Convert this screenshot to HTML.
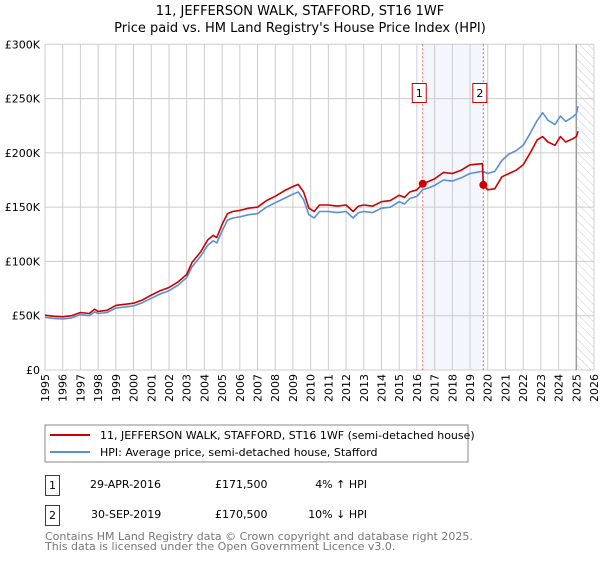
<!DOCTYPE html>
<html><head><meta charset="utf-8"><style>
body{margin:0;background:#fff;font-family:"Liberation Sans","DejaVu Sans",sans-serif;}
svg text{font-family:"DejaVu Sans","Liberation Sans",sans-serif;}
</style></head><body>
<svg id="c" width="600" height="560" xmlns="http://www.w3.org/2000/svg">
<defs><pattern id="hatch" width="6" height="6" patternUnits="userSpaceOnUse" patternTransform="rotate(-45)"><line x1="0" y1="0" x2="0" y2="6" stroke="#ccc" stroke-width="1"/></pattern></defs>
<text x="300" y="15" text-anchor="middle" font-size="13">11, JEFFERSON WALK, STAFFORD, ST16 1WF</text>
<text x="300" y="32" text-anchor="middle" font-size="13">Price paid vs. HM Land Registry's House Price Index (HPI)</text>
<g id="plot"></g>
<rect x="45" y="425" width="423" height="37" fill="#fff" stroke="#888"/>
<line x1="50" y1="435" x2="90" y2="435" stroke="#cc0000" stroke-width="2"/>
<text x="100" y="439" font-size="11">11, JEFFERSON WALK, STAFFORD, ST16 1WF (semi-detached house)</text>
<line x1="50" y1="452" x2="90" y2="452" stroke="#5b8fd4" stroke-width="2"/>
<text x="100" y="456" font-size="11">HPI: Average price, semi-detached house, Stafford</text>
<g>
<rect x="45.5" y="475.5" width="14" height="20" fill="#fff" stroke="#cc0000"/>
<text x="52.5" y="489" text-anchor="middle" font-size="11">1</text>
<text x="90" y="488" font-size="11">29-APR-2016</text>
<text x="215" y="488" font-size="11">£171,500</text>
<text x="367" y="488" text-anchor="end" font-size="11">4% ↑ HPI</text>
</g>
<g>
<rect x="45.5" y="505.5" width="14" height="20" fill="#fff" stroke="#cc0000"/>
<text x="52.5" y="519" text-anchor="middle" font-size="11">2</text>
<text x="91" y="518" font-size="11">30-SEP-2019</text>
<text x="215" y="518" font-size="11">£170,500</text>
<text x="367" y="518" text-anchor="end" font-size="11">10% ↓ HPI</text>
</g>
<text x="45" y="540" font-size="11" fill="#777">Contains HM Land Registry data © Crown copyright and database right 2025.</text>
<text x="45" y="550" font-size="11" fill="#777">This data is licensed under the Open Government Licence v3.0.</text>
</svg>
<script>
const yTicks=[0,50,100,150,200,250,300];
const yTickLabels=["£0","£50K","£100K","£150K","£200K","£250K","£300K"];
const xTicks=[1995,1996,1997,1998,1999,2000,2001,2002,2003,2004,2005,2006,2007,2008,2009,2010,2011,2012,2013,2014,2015,2016,2017,2018,2019,2020,2021,2022,2023,2024,2025,2026];
const hpiYears=[1995,1995.5,1996,1996.5,1997,1997.5,1997.8,1998,1998.5,1999,1999.5,2000,2000.5,2001,2001.5,2002,2002.5,2003,2003.3,2003.8,2004.2,2004.5,2004.7,2005,2005.3,2005.6,2006,2006.5,2007,2007.5,2008,2008.5,2009,2009.3,2009.6,2009.9,2010.2,2010.5,2011,2011.5,2012,2012.4,2012.7,2013,2013.5,2014,2014.5,2015,2015.3,2015.6,2016,2016.33,2016.7,2017,2017.5,2018,2018.5,2019,2019.7,2020,2020.4,2020.8,2021.2,2021.6,2022,2022.4,2022.8,2023.1,2023.4,2023.8,2024.1,2024.4,2024.8,2025,2025.1];
const hpiValues=[48.5,47.5,47,48,51,50,53.5,52,53,57,58,59,62,66,70,73,78,85,95,105,115,119,117,128,138,140,141,143,144,150,154,158,162,164,157,143,140,146,146,145,146,140,145,146,145,149,150,155,153,158,160,166,168,170,175,174,177,181,183,181,183,193,199,202,207,218,230,237,230,226,234,229,233,236,243];
const propYears=[1995,1995.5,1996,1996.5,1997,1997.5,1997.8,1998,1998.5,1999,1999.5,2000,2000.5,2001,2001.5,2002,2002.5,2003,2003.3,2003.8,2004.2,2004.5,2004.7,2005,2005.3,2005.6,2006,2006.5,2007,2007.5,2008,2008.5,2009,2009.3,2009.6,2009.9,2010.2,2010.5,2011,2011.5,2012,2012.4,2012.7,2013,2013.5,2014,2014.5,2015,2015.3,2015.6,2016,2016.33,2016.7,2017,2017.5,2018,2018.5,2019,2019.7,2019.75,2020,2020.4,2020.8,2021.2,2021.6,2022,2022.4,2022.8,2023.1,2023.4,2023.8,2024.1,2024.4,2024.8,2025,2025.1];
const propValues=[50.5,49.5,49,50,53,52,56,54,55,59.5,60.5,61.5,64.5,69,73,76,81,88,99,109,120,124,122,134,144,146,147,149,150,156,160,165,169,171,164,149,146,152,152,151,152,146,151,152,151,155,156,161,159,164,166,171.5,174,176,182,181,184,189,190,170.5,166,167,178,181,184,189,200,212,215,210,207,215,210,213,215,220];
const sales=[{year:2016.33,value:171.5,label:"1"},{year:2019.75,value:170.5,label:"2"}];
const X0=45,X1=594,Y0=370,Y1=44.3,xMin=1995,xMax=2026,yMax=300;
const xs=v=>X0+(v-xMin)/(xMax-xMin)*(X1-X0);
const ys=v=>Y0-v/yMax*(Y0-Y1);
const NS="http://www.w3.org/2000/svg",g=document.getElementById('plot');
function mk(t,a,p){const e=document.createElementNS(NS,t);for(const k in a)e.setAttribute(k,a[k]);(p||g).appendChild(e);return e;}
let e=mk('rect',{x:xs(2016.33),y:Y1,width:xs(2019.75)-xs(2016.33),height:Y0-Y1,fill:'#eef3fc',opacity:0.7});


e=mk('rect',{x:xs(2025.0),y:Y1,width:X1-xs(2025.0),height:Y0-Y1,fill:'url(#hatch)'});


xTicks.forEach(t=>{
 e=mk('line',{x1:xs(t),x2:xs(t),y1:Y1,y2:Y0,stroke:'#ccc'});
 
 
 e=mk('text',{x:0,y:0,transform:`translate(${xs(t)+4},374) rotate(-90)`,'text-anchor':'end','font-size':11});
 e.textContent=t;
 
 
});
yTicks.forEach((t,i)=>{
 e=mk('line',{x1:X0,x2:X1,y1:ys(t),y2:ys(t),stroke:'#ccc'});
 
 
 e=mk('text',{x:40,y:ys(t)+4,'text-anchor':'end','font-size':11});
 e.textContent=yTickLabels[i];
 
 
});
e=mk('line',{x1:xs(2025.0),x2:xs(2025.0),y1:Y1,y2:Y0,stroke:'#999','stroke-width':1.5});


sales.forEach(s=>{
 e=mk('line',{x1:xs(s.year),x2:xs(s.year),y1:Y1,y2:Y0,stroke:'#f06060','stroke-dasharray':'2,2'});
 
 
});
function path(xa,va,col,name){
 const d=xa.map((x,i)=>(i?'L':'M')+xs(x).toFixed(1)+','+ys(va[i]).toFixed(1)).join('');
 e=mk('path',{d:d,fill:'none',stroke:col,'stroke-width':1.6,'stroke-linejoin':'round'});
 
 
}
path(hpiYears,hpiValues,'#5b8fd4','hpi-line');
path(propYears,propValues,'#cc0000','property-price-line');
sales.forEach(s=>{
 e=mk('circle',{cx:xs(s.year),cy:ys(s.value),r:4,fill:'#cc0000'});
 
 
 e=mk('rect',{x:xs(s.year)-10.5,y:83.5,width:14,height:19,fill:'#fff',stroke:'#cc0000'});
 
 
 e=mk('text',{x:xs(s.year)-3.5,y:97,'text-anchor':'middle','font-size':11});
 e.textContent=s.label;
 
 
});
</script>
</body></html>
